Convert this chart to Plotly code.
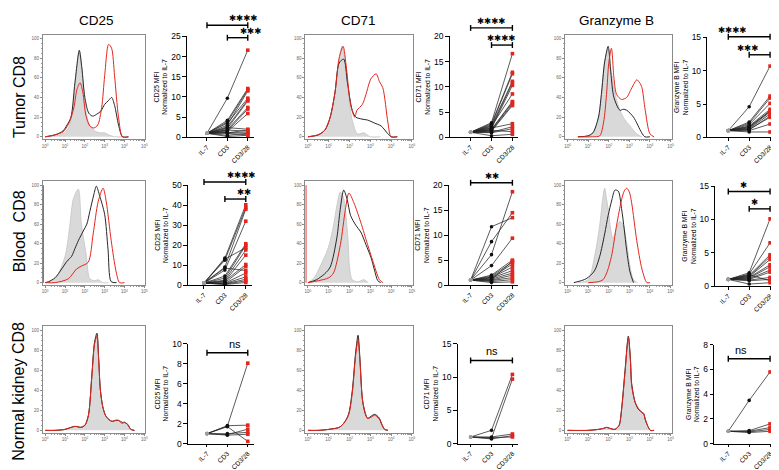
import plotly.graph_objects as go

W, H = 779, 470
FONT = "Liberation Sans, Arial, Helvetica, sans-serif"

categories = ["IL-7", "CD3", "CD3/28"]
markers = ["CD25", "CD71", "Granzyme B"]
tissues = ["Tumor CD8", "Blood\u00a0 CD8", "Normal kidney CD8"]
hist_xticks = [1, 10, 100, 1000, 10000, 100000]
hist_xtext = ["10<sup>0</sup>", "10<sup>1</sup>", "10<sup>2</sup>", "10<sup>3</sup>", "10<sup>4</sup>", "10<sup>5</sup>"]
hist_yticks = [0, 20, 40, 60, 80, 100]
hist_ytext = ["0", "20", "40", "60", "80", "100"]

# ---------------- histogram curves (log10 fluorescence, % of max) ----------------
# Tumor CD25
h_tum_cd25_il7_x = [0, 0.5, 0.9, 1.2, 1.4, 1.55, 1.72, 1.85, 2.0, 2.2, 2.5, 2.8, 3.0, 3.2, 3.5, 4.0]
h_tum_cd25_il7_y = [0, 1, 3, 10, 30, 60, 86, 68, 35, 14, 6, 4, 4, 2, 0, 0]
h_tum_cd25_cd3_x = [0, 0.5, 0.9, 1.1, 1.3, 1.5, 1.72, 1.85, 2.0, 2.2, 2.4, 2.6, 2.8, 3.0, 3.2, 3.35, 3.5, 3.7, 3.9, 4.2]
h_tum_cd25_cd3_y = [0, 2, 6, 12, 20, 55, 88, 70, 40, 24, 21, 23, 26, 33, 37, 40, 32, 12, 0, 0]
h_tum_cd25_cd328_x = [0, 0.5, 0.9, 1.2, 1.45, 1.6, 1.76, 1.9, 2.05, 2.25, 2.45, 2.65, 2.85, 3.0, 3.2, 3.35, 3.5, 3.7, 3.9, 4.2]
h_tum_cd25_cd328_y = [0, 2, 5, 14, 30, 48, 55, 45, 22, 11, 9, 12, 30, 62, 94, 90, 62, 20, 0, 0]
# Tumor CD71
h_tum_cd71_il7_x = [0, 0.5, 0.82, 1.07, 1.3, 1.5, 1.64, 1.8, 1.97, 2.13, 2.38, 2.7, 3.0, 3.5]
h_tum_cd71_il7_y = [0, 2, 7, 20, 45, 80, 92, 75, 40, 17, 3, 4, 0, 0]
h_tum_cd71_cd3_x = [0, 0.5, 0.82, 1.07, 1.3, 1.5, 1.72, 1.9, 2.13, 2.3, 2.6, 2.87, 3.2, 3.52, 3.85, 4.0, 4.3]
h_tum_cd71_cd3_y = [0, 2, 7, 20, 45, 75, 79, 55, 27, 20, 18, 17, 14, 11, 3, 0, 0]
h_tum_cd71_cd328_x = [0, 0.5, 0.82, 1.07, 1.3, 1.5, 1.69, 1.85, 2.05, 2.25, 2.36, 2.62, 2.79, 3.03, 3.28, 3.44, 3.6, 3.85, 4.0, 4.3]
h_tum_cd71_cd328_y = [0, 2, 7, 20, 45, 80, 92, 70, 33, 20, 27, 33, 43, 59, 64, 56, 50, 14, 0, 0]
# Tumor Granzyme B
h_tum_gzmb_il7_x = [0.5, 1.0, 1.23, 1.5, 1.64, 1.8, 1.97, 2.1, 2.38, 2.7, 3.03, 3.36, 3.6]
h_tum_gzmb_il7_y = [0, 1, 4, 20, 43, 76, 89, 70, 37, 20, 11, 3, 0]
h_tum_gzmb_cd3_x = [0.5, 1.0, 1.23, 1.5, 1.64, 1.8, 1.97, 2.1, 2.25, 2.54, 2.7, 2.87, 3.2, 3.6, 3.75, 4.0]
h_tum_gzmb_cd3_y = [0, 1, 4, 20, 43, 76, 92, 65, 40, 27, 28, 27, 20, 4, 0, 0]
h_tum_gzmb_cd328_x = [0.5, 1.2, 1.56, 1.75, 1.89, 2.0, 2.13, 2.25, 2.38, 2.62, 2.87, 3.05, 3.2, 3.36, 3.5, 3.61, 3.77, 4.0, 4.2]
h_tum_gzmb_cd328_y = [0, 0, 1, 15, 43, 75, 90, 60, 43, 38, 40, 47, 53, 58, 55, 50, 27, 3, 0]
# Blood CD25
h_bld_cd25_il7_x = [0, 0.5, 1.0, 1.25, 1.42, 1.67, 1.83, 2.08, 2.25, 2.5, 2.67, 2.9, 3.2]
h_bld_cd25_il7_y = [0, 4, 27, 60, 86, 96, 60, 27, 4, 2, 3, 0, 0]
h_bld_cd25_cd3_x = [0, 0.17, 0.5, 0.83, 1.1, 1.33, 1.5, 1.67, 1.92, 2.1, 2.25, 2.45, 2.58, 2.75, 3.0, 3.17, 3.33, 3.6]
h_bld_cd25_cd3_y = [0, 1, 5, 14, 22, 27, 35, 43, 53, 60, 73, 90, 99, 89, 70, 34, 1, 0]
h_bld_cd25_cd328_x = [0, 0.5, 1.17, 1.58, 1.83, 2.17, 2.42, 2.67, 2.92, 3.08, 3.33, 3.58, 3.75, 4.0]
h_bld_cd25_cd328_y = [0, 0, 4, 14, 17, 21, 50, 83, 97, 83, 43, 11, 0, 0]
# Blood CD71
h_bld_cd71_il7_x = [0, 0.3, 0.57, 0.98, 1.23, 1.4, 1.56, 1.7, 1.8, 1.93, 2.0, 2.13, 2.4, 2.7, 2.9]
h_bld_cd71_il7_y = [0, 5, 16, 36, 59, 80, 93, 88, 75, 43, 16, 3, 1, 3, 0]
h_bld_cd71_cd3_x = [0, 0.41, 0.8, 1.07, 1.39, 1.55, 1.72, 1.89, 2.05, 2.3, 2.54, 2.79, 3.03, 3.2, 3.36, 3.5]
h_bld_cd71_cd3_y = [0, 3, 9, 16, 46, 75, 95, 85, 69, 59, 52, 39, 26, 13, 2, 0]
h_bld_cd71_cd328_x = [0, 0.5, 1.0, 1.23, 1.56, 1.8, 1.97, 2.21, 2.54, 2.87, 3.11, 3.44, 3.6]
h_bld_cd71_cd328_y = [0, 2, 5, 10, 39, 75, 92, 82, 62, 39, 23, 3, 0]
# Blood Granzyme B
h_bld_gzmb_il7_x = [0.5, 1.0, 1.31, 1.56, 1.7, 1.8, 1.9, 1.97, 2.13, 2.21, 2.4, 2.54, 2.7, 2.87, 3.03, 3.2, 3.4]
h_bld_gzmb_il7_y = [0, 3, 27, 59, 85, 97, 85, 76, 50, 46, 58, 63, 59, 40, 17, 3, 0]
h_bld_gzmb_cd3_x = [0.3, 0.9, 1.3, 1.56, 1.8, 1.97, 2.15, 2.3, 2.46, 2.62, 2.75, 2.87, 3.03, 3.2]
h_bld_gzmb_cd3_y = [0, 4, 12, 27, 50, 69, 85, 95, 94, 76, 55, 33, 11, 0]
h_bld_gzmb_cd328_x = [1.0, 1.5, 1.72, 1.9, 2.13, 2.38, 2.62, 2.75, 2.87, 3.0, 3.11, 3.36, 3.61, 3.85, 4.0]
h_bld_gzmb_cd328_y = [0, 1, 3, 10, 27, 59, 85, 94, 97, 93, 82, 43, 14, 0, 0]
# Normal kidney CD25
h_kid_cd25_x = [0, 0.5, 1.0, 1.5, 1.8, 2.0, 2.18, 2.35, 2.49, 2.61, 2.7, 2.78, 2.9, 3.04, 3.2, 3.38, 3.55, 3.69, 3.8, 3.89, 4.0, 4.15, 4.32, 4.5]
h_kid_cd25_il7_y = [0, 0, 1, 4, 3, 5, 15, 54, 87, 95, 70, 41, 24, 15, 11, 9, 9, 10, 8, 7, 7, 7, 1, 0]
h_kid_cd25_cd3_y = [0, 0, 1, 4, 3, 5, 15, 54, 88, 97, 71, 41, 24, 15, 11, 9, 10, 10, 9, 8, 8, 6, 1, 0]
h_kid_cd25_cd328_y = [0, 0, 1, 4, 3, 5, 15, 53, 86, 94, 69, 41, 24, 15, 11, 9, 10, 10, 8, 7, 8, 6, 1, 0]
# Normal kidney CD71
h_kid_cd71_x = [0, 0.5, 1.0, 1.5, 1.72, 1.95, 2.13, 2.3, 2.41, 2.5, 2.62, 2.75, 2.87, 3.03, 3.2, 3.3, 3.44, 3.55, 3.69, 3.85]
h_kid_cd71_il7_y = [0, 0, 1, 3, 7, 15, 38, 77, 91, 70, 31, 18, 12, 14, 16, 15, 12, 7, 1, 0]
h_kid_cd71_cd3_y = [0, 0, 1, 3, 7, 16, 39, 79, 95, 72, 31, 17, 12, 14, 16, 15, 12, 6, 1, 0]
h_kid_cd71_cd328_y = [0, 0, 1, 3, 7, 15, 37, 76, 90, 69, 31, 18, 12, 13, 15, 14, 11, 6, 1, 0]
# Normal kidney Granzyme B
h_kid_gzmb_x = [0, 1.0, 1.5, 1.75, 1.89, 2.05, 2.3, 2.5, 2.62, 2.79, 2.95, 3.05, 3.11, 3.28, 3.44, 3.61, 3.7, 3.77, 3.9, 4.02, 4.2]
h_kid_gzmb_il7_y = [0, 0, 1, 2, 3, 2, 1, 5, 21, 60, 92, 70, 47, 28, 21, 18, 17, 11, 4, 0, 0]
h_kid_gzmb_cd3_y = [0, 0, 1, 2, 3, 2, 1, 5, 21, 60, 94, 72, 47, 28, 21, 18, 16, 11, 4, 0, 0]
h_kid_gzmb_cd328_y = [0, 0, 1, 2, 3, 2, 1, 5, 20, 58, 93, 70, 45, 28, 22, 18, 17, 11, 4, 0, 0]
# pile-up at the axis minimum (red, blood CD25 / CD71)
h_edge_x = [-0.1, -0.1]
h_edge_y = [0, 100]

# ---------------- paired MFI values, normalized to IL-7 ----------------
tum_cd25_il7 = [1, 1, 1, 1, 1, 1, 1, 1, 1, 1, 1, 1, 1, 1, 1, 1, 1]
tum_cd25_cd3 = [9.7, 4.2, 3.8, 3.0, 3.5, 2.6, 2.2, 1.9, 1.6, 1.4, 2.4, 1.8, 1.2, 1.0, 0.5, 0.2, 1.1]
tum_cd25_cd328 = [21.6, 12.1, 11.8, 11.5, 9.7, 9.3, 9.0, 7.4, 7.0, 5.9, 2.0, 1.5, 1.1, 0.6, 1.0, 0.5, 1.8]
tum_cd71_il7 = [1, 1, 1, 1, 1, 1, 1, 1, 1, 1, 1, 1, 1, 1, 1, 1]
tum_cd71_cd3 = [2.9, 2.7, 2.5, 2.3, 2.0, 1.8, 2.2, 1.6, 1.5, 1.3, 1.2, 1.9, 1.0, 0.9, 1.4, 0.3]
tum_cd71_cd328 = [16.6, 12.9, 12.6, 11.1, 10.8, 10.3, 8.6, 7.1, 6.9, 6.6, 6.3, 2.7, 2.1, 1.7, 1.1, 0.6]
tum_gzmb_il7 = [1, 1, 1, 1, 1, 1, 1, 1, 1, 1, 1, 1, 1]
tum_gzmb_cd3 = [4.6, 2.3, 2.1, 1.9, 1.7, 1.5, 1.4, 1.3, 1.2, 1.0, 0.8, 1.1, 1.6]
tum_gzmb_cd328 = [10.7, 6.2, 5.9, 5.1, 4.2, 4.0, 3.8, 3.5, 3.0, 2.0, 0.8, 3.2, 3.9]

bld_cd25_il7 = [1, 1, 1, 1, 1, 1, 1, 1, 1, 1, 1, 1, 1, 1, 1, 1, 1]
bld_cd25_cd3 = [13.5, 12.5, 9.0, 7.5, 4.5, 3.5, 13.0, 2.5, 1.8, 2.0, 1.2, 8.5, 1.0, 0.8, 0.6, 0.5, 0.3]
bld_cd25_cd328 = [40.2, 38.8, 38.0, 32.0, 20.7, 19.9, 18.7, 17.6, 15.0, 10.3, 9.3, 7.3, 6.0, 4.1, 2.9, 2.1, 1.3]
bld_cd71_il7 = [1, 1, 1, 1, 1, 1, 1, 1, 1, 1, 1, 1, 1, 1, 1]
bld_cd71_cd3 = [11.7, 8.7, 6.1, 3.9, 2.0, 1.8, 1.6, 1.5, 1.4, 1.2, 1.0, 0.9, 0.7, 0.5, 1.1]
bld_cd71_cd328 = [13.5, 14.5, 18.7, 9.4, 5.0, 4.6, 4.2, 3.6, 2.9, 2.4, 2.0, 1.5, 1.1, 0.65, 4.8]
bld_gzmb_il7 = [1, 1, 1, 1, 1, 1, 1, 1, 1, 1, 1, 1, 1]
bld_gzmb_cd3 = [2.0, 1.8, 1.6, 1.5, 1.4, 1.3, 1.2, 1.1, 1.0, 0.9, 0.8, 1.7, 0.3]
bld_gzmb_cd328 = [10.1, 6.5, 4.7, 4.4, 4.0, 3.2, 2.9, 2.4, 2.1, 1.3, 1.0, 0.8, 0.5]

kid_cd25_il7 = [1, 1, 1, 1, 1, 1]
kid_cd25_cd3 = [1.75, 1.8, 0.9, 1.0, 0.85, 1.7]
kid_cd25_cd328 = [8.06, 1.85, 1.45, 1.13, 0.94, 0.23]
kid_cd71_il7 = [1, 1, 1, 1, 1]
kid_cd71_cd3 = [2.0, 0.8, 1.0, 0.7, 0.9]
kid_cd71_cd328 = [10.4, 9.7, 1.45, 1.2, 1.0]
kid_gzmb_il7 = [1, 1, 1, 1, 1]
kid_gzmb_cd3 = [3.5, 1.05, 1.0, 0.95, 0.9]
kid_gzmb_cd328 = [5.8, 1.6, 1.3, 1.15, 1.0]

# significance brackets: (from, to, height in data units, label)
sig_tum_cd25 = [("IL-7", "CD3/28", 27.8, "****"), ("CD3", "CD3/28", 24.7, "***")]
sig_tum_cd71 = [("IL-7", "CD3/28", 21.7, "****"), ("CD3", "CD3/28", 18.3, "****")]
sig_tum_gzmb = [("IL-7", "CD3/28", 15.1, "****"), ("CD3", "CD3/28", 12.4, "***")]
sig_bld_cd25 = [("IL-7", "CD3/28", 51.6, "****"), ("CD3", "CD3/28", 43.1, "**")]
sig_bld_cd71 = [("IL-7", "CD3/28", 20.5, "**")]
sig_bld_gzmb = [("IL-7", "CD3/28", 14.2, "*"), ("CD3", "CD3/28", 11.6, "*")]
sig_kid_cd25 = [("IL-7", "CD3/28", 9.1, "ns")]
sig_kid_cd71 = [("IL-7", "CD3/28", 12.5, "ns")]
sig_kid_gzmb = [("IL-7", "CD3/28", 6.87, "ns")]

# ---------------- layout geometry (pixels) ----------------
HIST_COLS = [(34, 137), (298, 406), (559, 666)]
HIST_ROWS = [(22, 129), (172, 278), (320, 429)]
# (y-axis px, IL-7 px, CD3/28 px, top px, bottom px)
DOT_GEOM = {
    (0, 0): (179, 199, 240, 24, 127), (0, 1): (443, 464, 506, 24, 127), (0, 2): (702, 723, 765, 25, 127),
    (1, 0): (180, 196, 238, 176, 278), (1, 1): (442, 464, 506, 176, 278), (1, 2): (710, 723, 765, 177, 279),
    (2, 0): (180, 199, 240, 338, 440), (2, 1): (451, 464, 506, 338, 440), (2, 2): (709, 723, 765, 339, 440),
}
DOT_YMAX = {(0, 0): 25, (0, 1): 20, (0, 2): 15, (1, 0): 50, (1, 1): 20, (1, 2): 15, (2, 0): 10, (2, 1): 15, (2, 2): 8}
DOT_DTICK = {(0, 0): 5, (0, 1): 5, (0, 2): 5, (1, 0): 10, (1, 1): 5, (1, 2): 5, (2, 0): 2, (2, 1): 5, (2, 2): 2}

GREY_FILL = "#d9d9d9"
GREY_LINE = "#c4c4c4"
BLACK = "#262626"
RED = "#e3261d"

hist_data = {
    (0, 0): [(h_tum_cd25_il7_x, h_tum_cd25_il7_y), (h_tum_cd25_cd3_x, h_tum_cd25_cd3_y), (h_tum_cd25_cd328_x, h_tum_cd25_cd328_y)],
    (0, 1): [(h_tum_cd71_il7_x, h_tum_cd71_il7_y), (h_tum_cd71_cd3_x, h_tum_cd71_cd3_y), (h_tum_cd71_cd328_x, h_tum_cd71_cd328_y)],
    (0, 2): [(h_tum_gzmb_il7_x, h_tum_gzmb_il7_y), (h_tum_gzmb_cd3_x, h_tum_gzmb_cd3_y), (h_tum_gzmb_cd328_x, h_tum_gzmb_cd328_y)],
    (1, 0): [(h_bld_cd25_il7_x, h_bld_cd25_il7_y), (h_bld_cd25_cd3_x, h_bld_cd25_cd3_y), (h_bld_cd25_cd328_x, h_bld_cd25_cd328_y)],
    (1, 1): [(h_bld_cd71_il7_x, h_bld_cd71_il7_y), (h_bld_cd71_cd3_x, h_bld_cd71_cd3_y), (h_bld_cd71_cd328_x, h_bld_cd71_cd328_y)],
    (1, 2): [(h_bld_gzmb_il7_x, h_bld_gzmb_il7_y), (h_bld_gzmb_cd3_x, h_bld_gzmb_cd3_y), (h_bld_gzmb_cd328_x, h_bld_gzmb_cd328_y)],
    (2, 0): [(h_kid_cd25_x, h_kid_cd25_il7_y), (h_kid_cd25_x, h_kid_cd25_cd3_y), (h_kid_cd25_x, h_kid_cd25_cd328_y)],
    (2, 1): [(h_kid_cd71_x, h_kid_cd71_il7_y), (h_kid_cd71_x, h_kid_cd71_cd3_y), (h_kid_cd71_x, h_kid_cd71_cd328_y)],
    (2, 2): [(h_kid_gzmb_x, h_kid_gzmb_il7_y), (h_kid_gzmb_x, h_kid_gzmb_cd3_y), (h_kid_gzmb_x, h_kid_gzmb_cd328_y)],
}
hist_edge = {(1, 0), (1, 1)}

dot_data = {
    (0, 0): (tum_cd25_il7, tum_cd25_cd3, tum_cd25_cd328, sig_tum_cd25),
    (0, 1): (tum_cd71_il7, tum_cd71_cd3, tum_cd71_cd328, sig_tum_cd71),
    (0, 2): (tum_gzmb_il7, tum_gzmb_cd3, tum_gzmb_cd328, sig_tum_gzmb),
    (1, 0): (bld_cd25_il7, bld_cd25_cd3, bld_cd25_cd328, sig_bld_cd25),
    (1, 1): (bld_cd71_il7, bld_cd71_cd3, bld_cd71_cd328, sig_bld_cd71),
    (1, 2): (bld_gzmb_il7, bld_gzmb_cd3, bld_gzmb_cd328, sig_bld_gzmb),
    (2, 0): (kid_cd25_il7, kid_cd25_cd3, kid_cd25_cd328, sig_kid_cd25),
    (2, 1): (kid_cd71_il7, kid_cd71_cd3, kid_cd71_cd328, sig_kid_cd71),
    (2, 2): (kid_gzmb_il7, kid_gzmb_cd3, kid_gzmb_cd328, sig_kid_gzmb),
}

fig = go.Figure()
layout = {}
shapes = []
annotations = []

HX_RANGE = [-0.12, 5.05]
HY_RANGE = [-2.5, 104]
minor_x = [k * 10 ** d for d in range(5) for k in range(2, 10)]


def names(i):
    return ("x" if i == 1 else "x%d" % i, "y" if i == 1 else "y%d" % i,
            "xaxis" if i == 1 else "xaxis%d" % i, "yaxis" if i == 1 else "yaxis%d" % i)


idx = 0
for r in range(3):
    for c in range(3):
        # ---------- histogram ----------
        idx += 1
        xa, ya, xk, yk = names(idx)
        l, rr = HIST_COLS[c]
        t, b = HIST_ROWS[r]
        curves = hist_data[(r, c)]
        styles = [(GREY_LINE, 0.8, "tozeroy"), (BLACK, 1.0, None), (RED, 1.0, None)]
        for (lx, ly), (col, wd, fill) in zip(curves, styles):
            fig.add_trace(go.Scatter(
                x=[10 ** v for v in lx], y=ly, mode="lines", xaxis=xa, yaxis=ya,
                line=dict(color=col, width=wd, shape="spline", smoothing=0.8),
                fill=fill, fillcolor=GREY_FILL if fill else None, showlegend=False, hoverinfo="skip"))
        if (r, c) in hist_edge:
            fig.add_trace(go.Scatter(x=[10 ** v for v in h_edge_x], y=h_edge_y, mode="lines",
                                     xaxis=xa, yaxis=ya, line=dict(color=RED, width=1.2),
                                     showlegend=False, hoverinfo="skip"))
        layout[xk] = dict(domain=[l / W, rr / W], anchor=ya, type="log", range=HX_RANGE,
                          showline=True, mirror=True, linecolor="#8a8a8a", linewidth=1,
                          ticks="outside", ticklen=2, tickcolor="#8a8a8a", tickwidth=0.6,
                          tickmode="array", tickvals=hist_xticks, ticktext=hist_xtext,
                          tickfont=dict(size=4.5, color="#666", family=FONT),
                          showgrid=False, zeroline=False,
                          minor=dict(tickmode="array", tickvals=minor_x, ticks="outside",
                                     ticklen=1.2, tickcolor="#9a9a9a", tickwidth=0.5, showgrid=False))
        layout[yk] = dict(domain=[1 - b / H, 1 - t / H], anchor=xa, range=HY_RANGE,
                          showline=True, mirror=True, linecolor="#8a8a8a", linewidth=1,
                          ticks="outside", ticklen=2, tickcolor="#8a8a8a", tickwidth=0.6,
                          tickmode="array", tickvals=hist_yticks, ticktext=hist_ytext,
                          tickfont=dict(size=4.5, color="#666", family=FONT),
                          showgrid=False, zeroline=False,
                          minor=dict(dtick=5, ticks="outside", ticklen=1.2, tickcolor="#9a9a9a",
                                     tickwidth=0.5, showgrid=False))

        # ---------- paired dot plot ----------
        idx += 1
        xa, ya, xk, yk = names(idx)
        axpx, p0, p2, tpx, bpx = DOT_GEOM[(r, c)]
        sp = (p2 - p0) / 2.0
        right_px = p2 + 6
        xr = [-(p0 - axpx) / sp, 2 + (right_px - p2) / sp]
        ymax = DOT_YMAX[(r, c)]
        il7, cd3, cd328, sigs = dot_data[(r, c)]
        lx, ly = [], []
        for a, bb, cc in zip(il7, cd3, cd328):
            lx += [0, 1, 2, None]
            ly += [a, bb, cc, None]
        fig.add_trace(go.Scatter(x=lx, y=ly, mode="lines", xaxis=xa, yaxis=ya,
                                 line=dict(color=BLACK, width=0.75), showlegend=False,
                                 hoverinfo="skip", cliponaxis=False))
        for k, (vals, col, sym) in enumerate([(il7, "#9c9c9c", "circle"), (cd3, "#111111", "circle"),
                                              (cd328, RED, "square")]):
            fig.add_trace(go.Scatter(x=[k] * len(vals), y=vals, mode="markers", xaxis=xa, yaxis=ya,
                                     marker=dict(color=col, size=3.6, symbol=sym, line=dict(width=0)),
                                     showlegend=False, cliponaxis=False))
        dx0, dx1 = axpx / W, right_px / W
        dy0, dy1 = 1 - bpx / H, 1 - tpx / H
        layout[xk] = dict(domain=[dx0, dx1], anchor=ya, range=xr, showline=True,
                          linecolor="black", linewidth=1.2, ticks="outside", ticklen=2.5,
                          tickwidth=1, tickcolor="black", tickmode="array", tickvals=[0, 1, 2],
                          ticktext=categories, tickangle=-45,
                          tickfont=dict(size=6.6, color="black", family=FONT),
                          showgrid=False, zeroline=False)
        ytitle = markers[c] + " MFI<br>Normalized to IL-7"
        layout[yk] = dict(domain=[dy0, dy1], anchor=xa, range=[0, ymax], showline=True,
                          linecolor="black", linewidth=1.2, ticks="outside", ticklen=3.5,
                          tickwidth=1, tickcolor="black", dtick=DOT_DTICK[(r, c)],
                          tickfont=dict(size=8.5, color="black", family=FONT),
                          title=dict(text=ytitle, font=dict(size=6.8, color="black", family=FONT),
                                     standoff=2),
                          showgrid=False, zeroline=False)

        def px_(v):
            return dx0 + (v - xr[0]) / (xr[1] - xr[0]) * (dx1 - dx0)

        def py_(v):
            return dy0 + v / ymax * (dy1 - dy0)

        for a_cat, b_cat, yv, lab in sigs:
            xa0 = px_(categories.index(a_cat))
            xa1 = px_(categories.index(b_cat))
            yy = py_(yv)
            cap = 3.0 / H
            for (x0, y0, x1, y1) in [(xa0, yy, xa1, yy), (xa0, yy - cap, xa0, yy + cap),
                                     (xa1, yy - cap, xa1, yy + cap)]:
                shapes.append(dict(type="line", xref="paper", yref="paper", x0=x0, y0=y0,
                                   x1=x1, y1=y1, line=dict(color="black", width=1.4)))
            if lab == "ns":
                annotations.append(dict(x=(xa0 + xa1) / 2, y=yy, xref="paper", yref="paper",
                                        text="ns", showarrow=False, yanchor="bottom", yshift=1,
                                        font=dict(size=11, color="black", family=FONT)))
            else:
                annotations.append(dict(x=(xa0 + xa1) / 2, y=yy, xref="paper", yref="paper",
                                        text="\u2731" * len(lab), showarrow=False, yanchor="bottom",
                                        yshift=0,
                                        font=dict(size=8.5, color="black", family="DejaVu Sans")))

# column titles
title_x = [88, 351, 611]
for c in range(3):
    annotations.append(dict(x=title_x[c] / W, y=1 - 8 / H, xref="paper", yref="paper",
                            text=markers[c], showarrow=False, xanchor="center", yanchor="middle",
                            font=dict(size=13.5, color="black", family=FONT)))
# row labels
row_y = [86, 223, 386]
for r in range(3):
    annotations.append(dict(x=10 / W, y=1 - row_y[r] / H, xref="paper", yref="paper",
                            text=tissues[r], showarrow=False, textangle=-90,
                            xanchor="center", yanchor="middle",
                            font=dict(size=16, color="black", family=FONT)))

fig.update_layout(width=W, height=H, margin=dict(l=0, r=0, t=0, b=0),
                  paper_bgcolor="white", plot_bgcolor="white", showlegend=False,
                  font=dict(family=FONT, color="black"),
                  shapes=shapes, annotations=annotations, **layout)
fig.write_html("out.html")
